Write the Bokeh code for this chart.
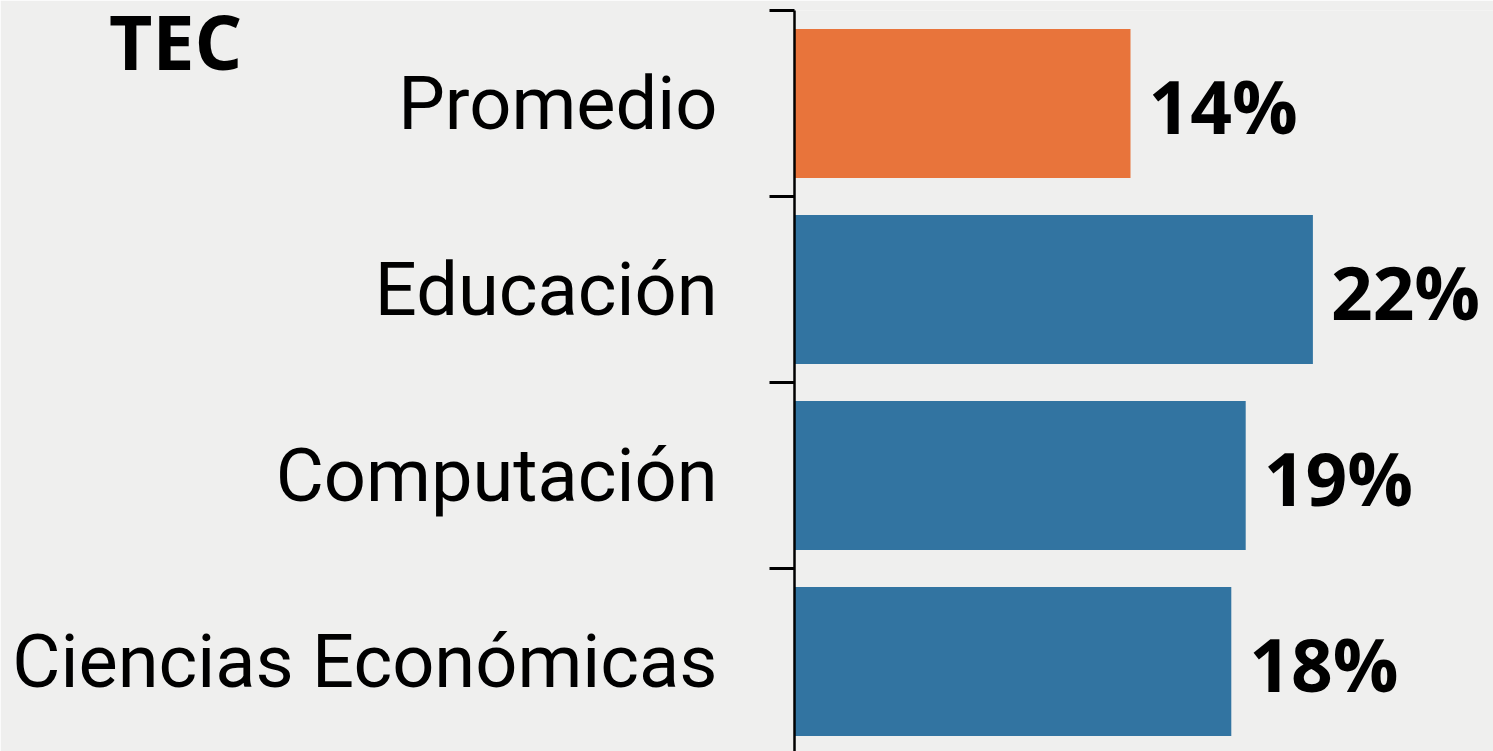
from bokeh.plotting import figure
from bokeh.models import Range1d, FixedTicker, LabelSet, ColumnDataSource
from bokeh.core.properties import value
from bokeh.embed import file_html
from bokeh.resources import INLINE

categories = ["Ciencias Económicas", "Computación", "Educación", "Promedio"]
values = [18.2, 18.8, 21.6, 14.0]
value_labels = ["18%", "19%", "22%", "14%"]
colors = ["#3274A1", "#3274A1", "#3274A1", "#E8743B"]
positions = [0.5, 1.5, 2.5, 3.5]
title_text = "TEC"

BG = "#EFEFEE"
FONT = "Roboto"
BOLD_FONT = "Open Sans"

src = ColumnDataSource(dict(y=positions, v=values, lab=value_labels, c=colors))

p = figure(width=1493, height=751, output_backend="svg", toolbar_location=None,
           x_range=Range1d(0, 29.125), y_range=Range1d(0.016, 4.0),
           min_border_left=794, min_border_right=0, min_border_top=10, min_border_bottom=0)
p.background_fill_color = BG
p.border_fill_color = BG
p.outline_line_color = None
p.grid.visible = False
p.xaxis.visible = False

p.hbar(y="y", right="v", left=0, height=0.8, fill_color="c", line_color=None, source=src)

yax = p.yaxis[0]
yax.ticker = FixedTicker(ticks=positions, minor_ticks=[0, 1, 2, 3, 4])
yax.major_label_overrides = {pos: cat for pos, cat in zip(positions, categories)}
yax.major_tick_line_color = None
yax.major_tick_out = 0
yax.major_tick_in = 0
yax.minor_tick_out = 25
yax.minor_tick_in = 0
yax.minor_tick_line_color = "black"
yax.minor_tick_line_width = 3
yax.axis_line_color = "black"
yax.axis_line_width = 2.5
yax.major_label_standoff = 52
yax.major_label_text_font = FONT
yax.major_label_text_font_size = "74px"
yax.major_label_text_color = "black"

# the title sits on a second line so that it is pushed below the top edge
yax.axis_label = " \n" + title_text
yax.axis_label_orientation = "horizontal"
yax.axis_label_align = "end"
yax.axis_label_standoff = -233
yax.axis_label_text_font = BOLD_FONT
yax.axis_label_text_font_style = "bold"
yax.axis_label_text_font_size = "75px"
yax.axis_label_text_line_height = 0.6
yax.axis_label_text_color = "black"

labels = LabelSet(x="v", y="y", text="lab", source=src, x_offset=18, y_offset=-2,
                  text_font=value(BOLD_FONT), text_font_style="bold", text_font_size="73px",
                  text_baseline="middle", text_color="black")
p.add_layout(labels)

open("out.html", "w").write(file_html(p, INLINE))
